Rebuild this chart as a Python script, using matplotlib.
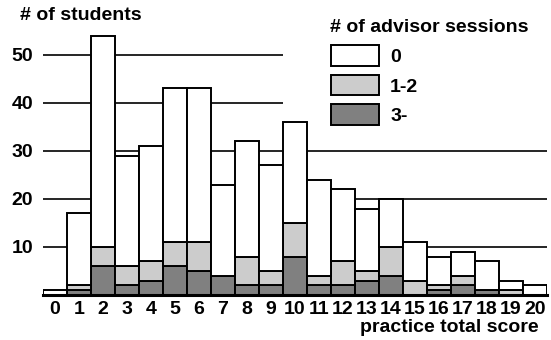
import matplotlib.pyplot as plt
import numpy as np
from matplotlib.patches import Patch

# scores 0..20, stacked counts per number of advisor sessions
scores = list(range(21))
sessions_3plus = [0, 1, 6, 2, 3, 6, 5, 4, 2, 2, 8, 2, 2, 3, 4, 0, 1, 2, 1, 0, 0]
sessions_1_2 = [0, 1, 4, 4, 4, 5, 6, 0, 6, 3, 7, 2, 5, 2, 6, 3, 1, 2, 0, 1, 0]
sessions_0 = [1, 15, 44, 23, 24, 32, 32, 19, 24, 22, 21, 20, 15, 13, 10, 8, 6, 5, 6, 2, 2]

grid_full = [10, 20, 30]
grid_short = [40, 50]

plt.rcParams['font.family'] = ['Liberation Sans', 'DejaVu Sans']
plt.rcParams['font.weight'] = 'bold'

fs = 14

fig = plt.figure(figsize=(5.51, 3.40), dpi=100)
ax = fig.add_axes([43 / 551, 45 / 340, 504 / 551, 269 / 340])

x = np.array(scores)
d = np.array(sessions_3plus)
l = np.array(sessions_1_2)
w = np.array(sessions_0)

# grid lines behind the bars (upper ones stop where the legend starts)
ax.hlines(grid_full, -0.5, 20.5, color='black', lw=1.2, zorder=0)
ax.hlines(grid_short, -0.5, 9.5, color='black', lw=1.2, zorder=0)

kw = dict(width=1.0, edgecolor='black', linewidth=1.4, zorder=2)
ax.bar(x, d, color='#808080', **kw)
ax.bar(x, l, bottom=d, color='#cccccc', **kw)
ax.bar(x, w, bottom=d + l, color='white', **kw)

ax.set_xlim(-0.5, 20.5)
ax.set_ylim(0, 56)
ax.set_xticks(x)
ax.set_xticklabels([str(s) for s in scores], fontsize=fs, fontweight='bold')
ax.set_yticks([10, 20, 30, 40, 50])
ax.set_yticklabels(['10', '20', '30', '40', '50'], fontsize=fs, fontweight='bold')
ax.tick_params(axis='both', length=0)
ax.tick_params(axis='y', pad=7)
ax.tick_params(axis='x', pad=4)

for s in ['top', 'right', 'left']:
    ax.spines[s].set_visible(False)
ax.spines['bottom'].set_linewidth(2.2)
ax.spines['bottom'].set_zorder(3)

fig.text(20 / 551, 1 - 16 / 340, '# of students', fontsize=fs,
         fontweight='bold', va='center', ha='left')
fig.text(539 / 551, 1 - 328 / 340, 'practice total score', fontsize=fs,
         fontweight='bold', va='center', ha='right')

handles = [Patch(facecolor='white', edgecolor='black', linewidth=1.4, label='0'),
           Patch(facecolor='#cccccc', edgecolor='black', linewidth=1.4, label='1-2'),
           Patch(facecolor='#808080', edgecolor='black', linewidth=1.4, label='3-')]
leg = ax.legend(handles=handles, title='# of advisor sessions',
                loc='upper left', bbox_to_anchor=(313 / 551, 1 - 2 / 340),
                bbox_transform=fig.transFigure, frameon=False,
                prop={'size': fs, 'weight': 'bold'},
                title_fontproperties={'size': fs, 'weight': 'bold'},
                handlelength=2.47, handleheight=1.24, labelspacing=0.45,
                handletextpad=0.6, alignment='left')

plt.savefig('out.png', dpi=100)
